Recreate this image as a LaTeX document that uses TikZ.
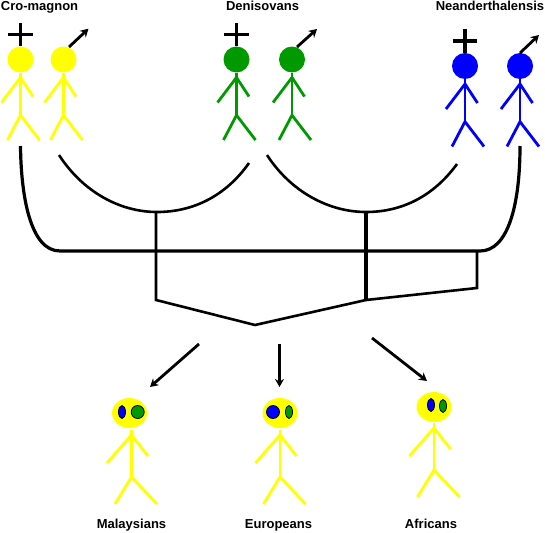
\documentclass[tikz,border=0pt]{standalone}
\usepackage{fontspec}
\setmainfont{Liberation Sans}
\usepackage{tikz}
\usetikzlibrary{arrows.meta, shapes.geometric, calc}
\definecolor{manyellow}{RGB}{255,255,0}
\definecolor{mangreen}{RGB}{0,153,0}
\definecolor{manblue}{RGB}{0,0,255}
\tikzset{
    % Stick figures
    head/.style={circle, fill=#1, minimum size=26pt, inner sep=0pt},
    limb/.style={draw=#1, line width=2.8pt},
    % Descendants
    facehead/.style={ellipse, fill=manyellow, minimum width=35pt, minimum height=30pt, inner sep=0pt},
    oveye/.style={ellipse, draw=black, fill=#1, line width=0.8pt, minimum width=7pt, minimum height=13pt, inner sep=0pt},
    rdeye/.style={circle, draw=black, fill=#1, line width=0.8pt, minimum size=13pt, inner sep=0pt},
    % Tree
    branch/.style={draw=black, line width=2.6pt},
    trunk/.style={draw=black, line width=3.2pt},
    cross/.style={draw=black, line width=3.2pt},
    garrow/.style={-{Stealth[length=8pt, width=9pt]}, draw=black, line width=2.8pt},
    namelbl/.style={font=\fontsize{13}{15}\selectfont\bfseries, text=black, inner sep=0pt, anchor=base},
}
% name, x, y of head centre, colour
\newcommand{\ancestor}[4]{
  \node[head=#4] (#1) at (#2,#3) {};
  \draw[limb=#4] (#1.south) -- ++(0,42.5) coordinate (#1hip);
  \draw[limb=#4] (-19+#2,43+#3) -- (#2,18+#3) -- (12.5+#2,37+#3);
  \draw[limb=#4] (-13+#2,80.5+#3) -- (#1hip) -- (19+#2,80.5+#3);
}
% x of body, y of shoulders
\newcommand{\descendant}[3]{
  \draw[limb=manyellow] (#2,-5+#3) -- (#2,42+#3) coordinate (#1hip);
  \draw[limb=manyellow] (-24.5+#2,28+#3) -- (#2,#3) -- (16.5+#2,21+#3);
  \draw[limb=manyellow] (-16.5+#2,69+#3) -- (#1hip) -- (25.5+#2,69+#3);
}
\begin{document}
\begin{tikzpicture}[x=1pt, y=-1pt]
\useasboundingbox (0,0) rectangle (545,532);

\node[namelbl] (cro)   at (39.5,10.5)  {Cro-magnon};
\node[namelbl] (deni)  at (262.5,10.5) {Denisovans};
\node[namelbl] (nean)  at (490,10.5)   {Neanderthalensis};
\node[namelbl] (malay) at (131.5,528.5) {Malaysians};
\node[namelbl] (euro)  at (278.5,528.5) {Europeans};
\node[namelbl] (afri)  at (431,528.5)   {Africans};

\ancestor{croa}{20.5}{59.5}{manyellow}
\ancestor{crob}{63.5}{59.5}{manyellow}
\ancestor{denia}{236.5}{59.5}{mangreen}
\ancestor{denib}{292}{59.5}{mangreen}
\ancestor{neana}{465}{66}{manblue}
\ancestor{neanb}{520}{66}{manblue}

% crosses
\draw[cross] (croa.north) -- (20.5,23);
\draw[cross] (8,34.5) -- (33,34.5);
\draw[cross] (denia.north) -- (236.5,23);
\draw[cross] (224,34.5) -- (249,34.5);
\draw[cross] (neana.north) -- (465,29);
\draw[cross] (452.5,41) -- (477,41);

% alive arrows
\coordinate (crotip) at (88.5,28.7);
\coordinate (denitip) at (317,29);
\coordinate (neantip) at (539,35);
\draw[garrow] (69,47) -- (crotip);
\draw[garrow] (297,47) -- (denitip);
\draw[garrow] (520,53) -- (neantip);

% tree
\coordinate (leftcup) at (157,212);
\coordinate (rightcup) at (366,212);
\coordinate (joinl) at (156,300);
\coordinate (joinr) at (366,300);
\coordinate (joinb) at (255,325);
\coordinate (joine) at (477,288);
\coordinate (barl) at (60,251);
\coordinate (barr) at (480,251);
\draw[branch] (59,155) .. controls (83,192) and (120,212) .. (leftcup) .. controls (192,212) and (225,197) .. (249,163);
\draw[branch] (267,155) .. controls (291,192) and (329,212) .. (rightcup) .. controls (401,212) and (433,197) .. (457,164);
\draw[trunk] (20.5,146) .. controls (21,195) and (30,251) .. (barl) -- (barr) .. controls (508,251) and (520,205) .. (520,146);
\draw[branch] (leftcup -| joinl) -- (joinl) -- (joinb) -- (joinr);
\draw[trunk] (rightcup) -- (joinr);
\draw[branch] (joinr) -- (joine) -- (477,251);

% descent arrows
\coordinate (malaytip) at (150,387);
\coordinate (eurotip) at (279.5,387);
\coordinate (afritip) at (427,381);
\draw[garrow] (199,344) -- (malaytip);
\draw[garrow] (279.5,344) -- (eurotip);
\draw[garrow] (372,338) -- (afritip);

% descendants
\descendant{malayman}{131.5}{435}
\node[facehead] (malayface) at (129.5,413) {};
\node[oveye=manblue] (malayl) at (122,412) {};
\node[rdeye=mangreen] (malayr) at (137.7,412) {};

\descendant{euroman}{280}{435}
\node[facehead] (euroface) at (280,413) {};
\node[rdeye=manblue] (eurol) at (273,412) {};
\node[oveye=mangreen] (euror) at (289,412) {};

\descendant{afriman}{434}{428}
\node[facehead] (afriface) at (434,407) {};
\node[oveye=manblue] (afril) at (431,405) {};
\node[oveye=mangreen] (afrir) at (443,406) {};
\end{tikzpicture}
\end{document}
